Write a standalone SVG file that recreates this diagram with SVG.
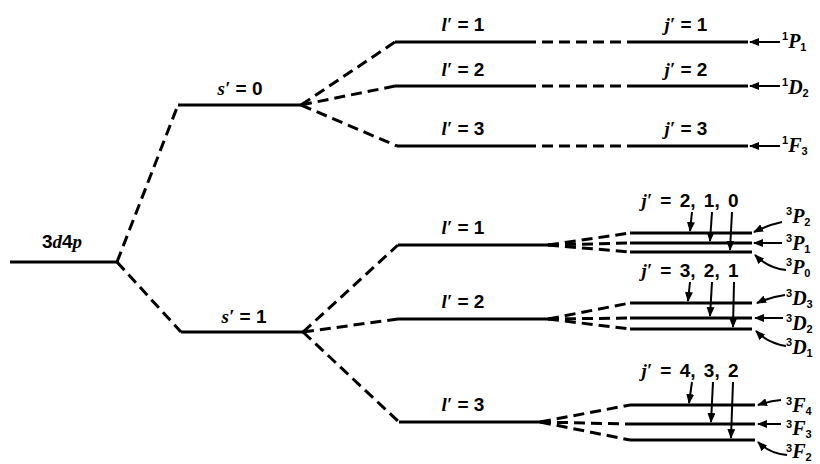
<svg xmlns="http://www.w3.org/2000/svg" width="820" height="464" viewBox="0 0 820 464">
<defs>
<marker id="ah" markerUnits="userSpaceOnUse" markerWidth="10" markerHeight="8" refX="9" refY="4" orient="auto"><path d="M0,0 L10,4 L0,8 z" fill="#000"/></marker>
</defs>
<style>
.lv { stroke:#000; stroke-width:3; fill:none; }
.dash { stroke:#000; stroke-width:3; fill:none; stroke-dasharray:11 6; }
.arr { stroke:#000; stroke-width:2; fill:none; marker-end:url(#ah); }
text { font-size:19px; fill:#000; }
.v { font-family:"Liberation Serif", "Times New Roman", serif; font-style:italic; font-weight:bold; }
.n { font-family:"Liberation Sans", Arial, sans-serif; font-weight:bold; }
.t { font-size:20px; }
.s { font-family:"Liberation Sans", Arial, sans-serif; font-weight:bold; font-size:11px; }
.j { word-spacing:3px; }
</style>
<rect x="0" y="0" width="820" height="464" fill="#fff"/>

<g id="n-3d4p">
<line class="lv" x1="10" y1="262" x2="117" y2="262"/>
<text x="62" y="248" text-anchor="middle"><tspan class="n">3</tspan><tspan class="v">d</tspan><tspan class="n">4</tspan><tspan class="v">p</tspan></text>
</g>
<g id="n-s0">
<line class="lv" x1="178" y1="105" x2="301" y2="105"/>
<text x="240" y="95" text-anchor="middle"><tspan class="v">s′</tspan><tspan class="n"> = 0</tspan></text>
</g>
<g id="n-s1">
<line class="lv" x1="181" y1="332" x2="303" y2="332"/>
<text x="244" y="323" text-anchor="middle"><tspan class="v">s′</tspan><tspan class="n"> = 1</tspan></text>
</g>

<g id="n-s0-l1">
<line class="lv" x1="395" y1="42" x2="525" y2="42"/>
<text x="463" y="31" text-anchor="middle"><tspan class="v">l′</tspan><tspan class="n"> = 1</tspan></text>
</g>
<g id="n-s0-l2">
<line class="lv" x1="395" y1="86" x2="525" y2="86"/>
<text x="463" y="76" text-anchor="middle"><tspan class="v">l′</tspan><tspan class="n"> = 2</tspan></text>
</g>
<g id="n-s0-l3">
<line class="lv" x1="397" y1="146" x2="525" y2="146"/>
<text x="463" y="135" text-anchor="middle"><tspan class="v">l′</tspan><tspan class="n"> = 3</tspan></text>
</g>

<g id="n-1P1">
<line class="lv" x1="630" y1="42" x2="748" y2="42"/>
<text x="686" y="31" text-anchor="middle"><tspan class="v">j′</tspan><tspan class="n"> = 1</tspan></text>
<text x="782" y="48"><tspan class="s" y="40">1</tspan><tspan class="v t" y="48">P</tspan><tspan class="s" y="51">1</tspan></text>
</g>
<g id="n-1D2">
<line class="lv" x1="630" y1="86" x2="748" y2="86"/>
<text x="686" y="76" text-anchor="middle"><tspan class="v">j′</tspan><tspan class="n"> = 2</tspan></text>
<text x="782" y="94"><tspan class="s" y="86">1</tspan><tspan class="v t" y="94">D</tspan><tspan class="s" y="97">2</tspan></text>
</g>
<g id="n-1F3">
<line class="lv" x1="630" y1="146" x2="748" y2="146"/>
<text x="686" y="135" text-anchor="middle"><tspan class="v">j′</tspan><tspan class="n"> = 3</tspan></text>
<text x="782" y="152"><tspan class="s" y="144">1</tspan><tspan class="v t" y="152">F</tspan><tspan class="s" y="155">3</tspan></text>
</g>

<g id="n-s1-l1">
<line class="lv" x1="398" y1="245" x2="548" y2="245"/>
<text x="463" y="234" text-anchor="middle"><tspan class="v">l′</tspan><tspan class="n"> = 1</tspan></text>
</g>
<g id="n-s1-l2">
<line class="lv" x1="398" y1="319" x2="548" y2="319"/>
<text x="463" y="308" text-anchor="middle"><tspan class="v">l′</tspan><tspan class="n"> = 2</tspan></text>
</g>
<g id="n-s1-l3">
<line class="lv" x1="399" y1="422" x2="540" y2="422"/>
<text x="463" y="411" text-anchor="middle"><tspan class="v">l′</tspan><tspan class="n"> = 3</tspan></text>
</g>

<g id="n-3P">
<line class="lv" x1="630" y1="233" x2="752" y2="233"/>
<line class="lv" x1="630" y1="243" x2="752" y2="243"/>
<line class="lv" x1="630" y1="252" x2="752" y2="252"/>
<text class="j" x="690" y="207" text-anchor="middle"><tspan class="v">j′</tspan><tspan class="n"> = 2, 1, 0</tspan></text>
<text x="786" y="223"><tspan class="s" y="215">3</tspan><tspan class="v t" y="223">P</tspan><tspan class="s" y="226">2</tspan></text>
<text x="786" y="250"><tspan class="s" y="242">3</tspan><tspan class="v t" y="250">P</tspan><tspan class="s" y="253">1</tspan></text>
<text x="786" y="274"><tspan class="s" y="266">3</tspan><tspan class="v t" y="274">P</tspan><tspan class="s" y="277">0</tspan></text>
</g>
<g id="n-3D">
<line class="lv" x1="630" y1="303" x2="752" y2="303"/>
<line class="lv" x1="630" y1="318" x2="752" y2="318"/>
<line class="lv" x1="630" y1="329" x2="752" y2="329"/>
<text class="j" x="690" y="277" text-anchor="middle"><tspan class="v">j′</tspan><tspan class="n"> = 3, 2, 1</tspan></text>
<text x="786" y="305"><tspan class="s" y="297">3</tspan><tspan class="v t" y="305">D</tspan><tspan class="s" y="308">3</tspan></text>
<text x="786" y="330"><tspan class="s" y="322">3</tspan><tspan class="v t" y="330">D</tspan><tspan class="s" y="333">2</tspan></text>
<text x="786" y="354"><tspan class="s" y="346">3</tspan><tspan class="v t" y="354">D</tspan><tspan class="s" y="357">1</tspan></text>
</g>
<g id="n-3F">
<line class="lv" x1="630" y1="405" x2="755" y2="405"/>
<line class="lv" x1="630" y1="424" x2="755" y2="424"/>
<line class="lv" x1="630" y1="440" x2="755" y2="440"/>
<text class="j" x="690" y="377" text-anchor="middle"><tspan class="v">j′</tspan><tspan class="n"> = 4, 3, 2</tspan></text>
<text x="786" y="412"><tspan class="s" y="405">3</tspan><tspan class="v t" y="412">F</tspan><tspan class="s" y="415">4</tspan></text>
<text x="786" y="435"><tspan class="s" y="428">3</tspan><tspan class="v t" y="435">F</tspan><tspan class="s" y="438">3</tspan></text>
<text x="786" y="458"><tspan class="s" y="452">3</tspan><tspan class="v t" y="458">F</tspan><tspan class="s" y="461">2</tspan></text>
</g>

<g id="connectors">
<line class="dash" x1="117" y1="262" x2="178" y2="105"/>
<line class="dash" x1="117" y1="262" x2="181" y2="332"/>
<line class="dash" x1="301" y1="105" x2="395" y2="42"/>
<line class="dash" x1="301" y1="105" x2="395" y2="86"/>
<line class="dash" x1="301" y1="105" x2="397" y2="146"/>
<line class="dash" x1="303" y1="332" x2="398" y2="245"/>
<line class="dash" x1="303" y1="332" x2="398" y2="319"/>
<line class="dash" x1="303" y1="332" x2="399" y2="422"/>
<line class="dash" x1="525" y1="42" x2="630" y2="42"/>
<line class="dash" x1="525" y1="86" x2="630" y2="86"/>
<line class="dash" x1="525" y1="146" x2="630" y2="146"/>
<line class="dash" x1="548" y1="245" x2="630" y2="233"/>
<line class="dash" x1="548" y1="245" x2="630" y2="243"/>
<line class="dash" x1="548" y1="245" x2="630" y2="252"/>
<line class="dash" x1="548" y1="319" x2="630" y2="303"/>
<line class="dash" x1="548" y1="319" x2="630" y2="318"/>
<line class="dash" x1="548" y1="319" x2="630" y2="329"/>
<line class="dash" x1="540" y1="422" x2="630" y2="405"/>
<line class="dash" x1="540" y1="422" x2="630" y2="424"/>
<line class="dash" x1="540" y1="422" x2="630" y2="440"/>
<path class="arr" d="M780,42 L750,42"/>
<path class="arr" d="M780,86 L750,86"/>
<path class="arr" d="M780,146 L750,146"/>
<path class="arr" d="M692,212 L690,231"/>
<path class="arr" d="M712,212 L710,241"/>
<path class="arr" d="M732,212 L730,250"/>
<path class="arr" d="M690,282 L688,301"/>
<path class="arr" d="M712,282 L710,316"/>
<path class="arr" d="M734,282 L733,327"/>
<path class="arr" d="M692,382 L689,403"/>
<path class="arr" d="M713,382 L711,422"/>
<path class="arr" d="M733,382 L731,438"/>
<path class="arr" d="M782,222 Q768,225 754,232"/>
<path class="arr" d="M782,243 L754,243"/>
<path class="arr" d="M786,270 Q768,268 755,255"/>
<path class="arr" d="M785,295 Q770,297 757,303"/>
<path class="arr" d="M783,318 L755,318"/>
<path class="arr" d="M786,346 Q768,343 756,331"/>
<path class="arr" d="M781,400 Q770,401 758,405"/>
<path class="arr" d="M781,424 L758,424"/>
<path class="arr" d="M787,455 Q770,454 758,442"/>
</g>
</svg>
